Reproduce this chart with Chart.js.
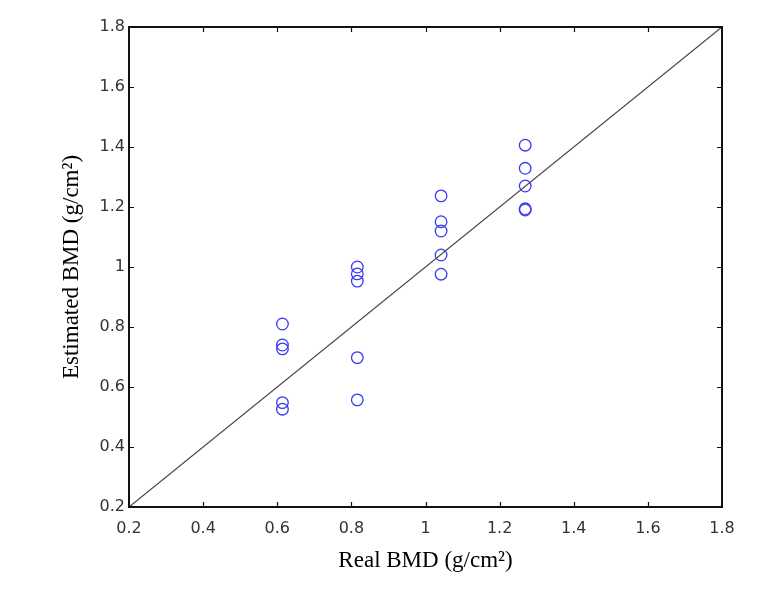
<!DOCTYPE html>
<html>
<head>
<meta charset="utf-8">
<script src="https://cdn.jsdelivr.net/npm/chart.js@4"></script>
<style>
  body { margin: 0; background: #fff; }
  canvas { display: block; }
</style>
</head>
<body>
<canvas id="bmdChart" width="766" height="589"></canvas>
<script>
// values
const realBMD = [
  0.614, 0.614, 0.614, 0.614, 0.614,
  0.816, 0.816, 0.816, 0.816, 0.816,
  1.042, 1.042, 1.042, 1.042, 1.042,
  1.269, 1.269, 1.269, 1.269, 1.269
];
const estimatedBMD = [
  0.81, 0.74, 0.727, 0.548, 0.526,
  1.0, 0.977, 0.953, 0.698, 0.557,
  1.237, 1.151, 1.12, 1.04, 0.976,
  1.406, 1.329, 1.27, 1.194, 1.19
];
const identityLine = [0.2, 1.8];
const axisMin = 0.2;
const axisMax = 1.8;
const tickStep = 0.2;

const points = realBMD.map((x, i) => ({ x: x, y: estimatedBMD[i] }));
const diagonal = identityLine.map(v => ({ x: v, y: v }));

// matlab style box with inward ticks
const boxPlugin = {
  id: 'boxPlugin',
  afterDraw(chart) {
    const ctx = chart.ctx;
    const a = chart.chartArea;
    const xs = chart.scales.x, ys = chart.scales.y;
    ctx.save();
    ctx.strokeStyle = '#111';
    ctx.lineWidth = 2;
    ctx.strokeRect(a.left, a.top, a.right - a.left, a.bottom - a.top);
    ctx.lineWidth = 1.2;
    ctx.beginPath();
    for (let v = axisMin + tickStep; v < axisMax - 0.01; v += tickStep) {
      const px = Math.round(xs.getPixelForValue(v)) + 0.5;
      ctx.moveTo(px, a.bottom); ctx.lineTo(px, a.bottom - 5);
      ctx.moveTo(px, a.top); ctx.lineTo(px, a.top + 5);
      const py = Math.round(ys.getPixelForValue(v)) + 0.5;
      ctx.moveTo(a.left, py); ctx.lineTo(a.left + 5, py);
      ctx.moveTo(a.right, py); ctx.lineTo(a.right - 5, py);
    }
    ctx.stroke();
    ctx.restore();
  }
};

const tickFont = { family: '"DejaVu Sans", sans-serif', size: 16 };
const titleFont = { family: '"Liberation Serif", "Times New Roman", serif', size: 23 };

new Chart(document.getElementById('bmdChart'), {
  type: 'scatter',
  data: {
    datasets: [
      {
        label: 'Estimated',
        data: points,
        pointStyle: 'circle',
        pointRadius: 5.8,
        pointHoverRadius: 5.8,
        borderColor: '#3a3af0',
        backgroundColor: 'rgba(0,0,0,0)',
        borderWidth: 1.3
      },
      {
        label: 'y = x',
        type: 'line',
        data: diagonal,
        borderColor: '#444',
        borderWidth: 1.2,
        pointRadius: 0,
        fill: false
      }
    ]
  },
  options: {
    responsive: false,
    devicePixelRatio: 1,
    animation: false,
    layout: { padding: { top: 27, right: 44, left: 0, bottom: 0 } },
    plugins: {
      legend: { display: false },
      tooltip: { enabled: false }
    },
    scales: {
      x: {
        type: 'linear',
        min: axisMin,
        max: axisMax,
        grid: { display: false, drawTicks: false },
        border: { display: false },
        ticks: {
          stepSize: tickStep,
          padding: 12,
          color: '#333',
          font: tickFont,
          maxRotation: 0,
          callback: v => String(+v.toFixed(1))
        },
        title: {
          display: true,
          text: 'Real BMD (g/cm²)',
          color: '#000',
          font: titleFont,
          padding: { top: 0, bottom: 14 }
        },
        afterFit(scale) { scale.height = 82; }
      },
      y: {
        type: 'linear',
        min: axisMin,
        max: axisMax,
        grid: { display: false, drawTicks: false },
        border: { display: false },
        ticks: {
          stepSize: tickStep,
          padding: 4,
          color: '#333',
          font: tickFont,
          callback: v => String(+v.toFixed(1))
        },
        title: {
          display: true,
          text: 'Estimated BMD (g/cm²)',
          color: '#000',
          font: titleFont,
          padding: { top: 58, bottom: 0 }
        },
        afterFit(scale) { scale.width = 129; }
      }
    }
  },
  plugins: [boxPlugin]
});
</script>
</body>
</html>
